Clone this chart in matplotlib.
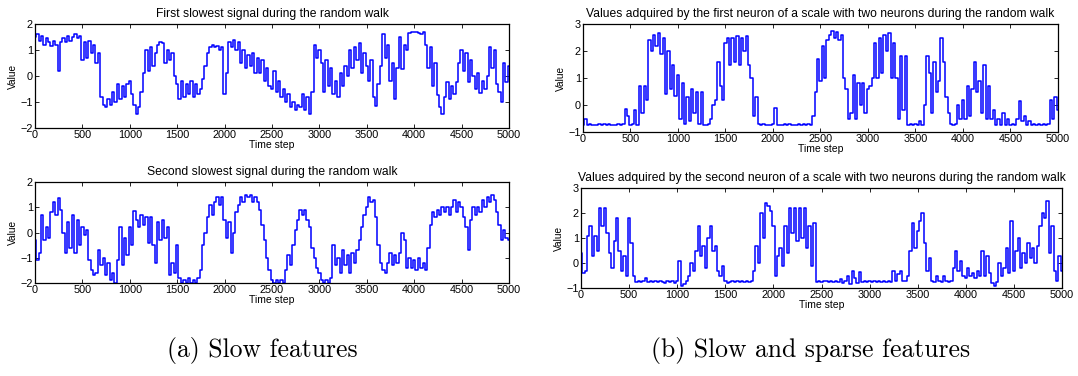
"""
Random walk features: slow signals vs. slow and sparse neuron responses
"""

import matplotlib.pyplot as plt

plt.rcParams["font.family"] = ["Liberation Sans", "DejaVu Sans"]

# Sample positions (every 25 time steps)
time_steps = list(range(0, 5001, 25))

# First slowest signal
slow_first = [
    1.5, 1.6, 1.35, 1.55, 1.2, 1.45, 1.3, 1.15, 1.35, 1.2, 0.2, 1.3, 1.45, 1.3, 1.55, 1.35, 1.5, 1.6, 1.45, 1.55,
    0.6, 1.3, 0.7, 1.35, 0.9, 1.2, 0.5, 0.9, -0.8, -1.1, -1.2, -0.9, -1.1, -0.6, -1.0, -0.3, -0.9, -0.4, -0.8, -0.3,
    -0.2, -0.7, -1.1, -1.45, -1.2, -0.6, 0.1, 1.0, 0.2, 1.1, 0.4, 0.9, 1.2, 1.3, 1.25, 0.5, 1.0, 0.6, 0.9, 0.0,
    -0.3, -0.9, -0.2, -0.8, -0.3, -0.7, -0.2, -0.8, -0.3, -0.7, -0.5, -0.1, 0.4, 0.9, 1.1, 1.2, 1.1, 1.15, 1.0, 1.1,
    -0.7, 0.1, 1.3, 1.1, 1.4, 1.0, 1.3, 0.5, 1.0, 0.3, 0.8, 0.4, 0.9, 0.1, 0.7, 0.1, 0.6, -0.2, 0.3, -0.4,
    -0.5, 0.2, -0.6, -0.2, -0.8, -0.5, -1.0, -0.7, -1.2, -1.0, -1.3, -1.1, -1.2, -0.7, -1.3, -0.8, -1.45, -0.6, 1.2, 0.7,
    1.0, 0.5, -0.6, 0.6, -0.4, 0.3, -0.7, -0.2, -0.8, 0.1, -0.4, 0.4, 0.0, 1.0, 0.3, 1.1, 0.6, 1.25, 0.1, 0.9,
    0.4, -0.2, 0.6, -0.8, -1.15, -0.3, 0.4, 1.6, 0.7, 1.2, -0.2, 0.5, -0.9, 0.3, 1.5, 0.25, 1.2, 1.0, 1.65, 1.7,
    1.68, 1.7, 1.65, 1.6, 1.68, 1.2, 0.3, 1.1, -0.4, 0.5, -0.75, -1.2, -1.45, -0.8, -0.25, -0.9, -0.4, -0.7, -0.25, 0.5,
    1.0, 0.2, 0.9, -0.25, 0.6, 0.0, -0.5, 0.1, -0.65, -0.2, -0.5, 0.0, 1.1, 0.3, 1.0, -0.3, -0.6, -1.0, 0.5, -0.25,
    0.4,
]

# Second slowest signal
slow_second = [
    -0.3, -1.1, -0.8, 0.7, -0.3, 0.2, -0.2, 0.8, 1.2, 0.7, 1.35, 0.9, 0.0, -0.8, 0.4, -0.6, 0.7, -0.8, 0.5, -0.5,
    0.2, -0.1, 0.1, -1.1, -1.5, -1.7, -1.6, -0.7, -1.3, -1.0, -1.7, -1.2, -1.9, -1.6, -2.0, -1.1, 0.2, -1.3, -0.2, -0.9,
    0.2, -0.5, 0.85, 0.5, 0.2, 0.7, 0.3, 0.6, -0.4, 0.6, -0.5, -1.2, 0.4, -0.3, 0.5, -0.2, 0.2, -1.7, -1.2, -1.6,
    -0.5, -1.8, -2.0, -1.9, -2.0, -1.8, -2.0, -1.9, -2.0, -1.8, -1.5, -0.5, 0.0, 0.6, 1.1, 0.7, 1.2, 1.4, 1.1, 1.4,
    0.5, -0.2, 0.4, -0.8, 0.0, 0.8, 1.1, 1.4, 1.2, 1.5, 1.4, 1.5, 1.2, 1.4, 1.2, 0.9, 0.3, -0.3, -1.0, -1.5,
    -1.9, -2.0, -1.9, -2.0, -1.9, -2.0, -1.5, -0.9, -1.3, -0.5, 0.1, 0.5, 0.9, 0.7, 0.9, 0.5, 0.2, -0.6, -1.0, -1.4,
    -1.6, -1.9, -2.0, -1.9, -2.0, -1.8, -0.5, -1.3, -1.0, -1.6, -0.7, -1.3, -0.9, -1.6, -0.8, -1.2, -0.7, -0.3, 0.2, 0.7,
    1.0, 1.4, 1.2, 1.3, 0.6, -0.5, -1.2, -1.5, -1.6, -1.2, -0.8, -1.3, -0.9, -1.2, -0.8, 0.0, -0.3, -1.4, -1.0, -1.4,
    -1.1, -1.5, -1.0, -1.4, -1.2, -1.5, -0.6, 0.3, 0.8, 0.6, 0.9, 0.7, 1.0, 0.8, 1.0, 0.7, 1.0, 1.3, 0.8, 1.2,
    1.0, 0.6, 0.2, -0.7, 0.5, 1.0, 0.7, 1.0, 0.8, 1.3, 1.0, 1.4, 1.2, 1.5, 1.3, 0.8, 0.3, -0.3, 0.1, -0.2,
    -0.3,
]

# First neuron of the two-neuron scale
neuron_first = [
    -0.75, -0.5, -0.75, -0.72, -0.75, -0.73, -0.75, -0.72, -0.75, -0.7, -0.75, -0.72, -0.75, -0.73, -0.75, -0.7, -0.75, -0.72, -0.15, -0.4,
    -0.75, -0.72, -0.2, -0.75, 0.7, -0.3, 0.7, 0.2, 2.4, 2.0, 2.6, 2.2, 2.65, 1.9, 2.5, 0.4, 2.0, 0.6, 1.5, 0.35,
    1.1, -0.5, 0.8, -0.7, 0.3, -0.6, 0.6, -0.3, 0.5, -0.7, 0.5, -0.75, -0.75, -0.72, -0.5, 0.0, 0.2, 1.6, 0.7, 0.2,
    2.3, 2.5, 1.5, 2.5, 1.6, 2.55, 1.5, 2.5, 2.0, 2.55, 1.5, 1.0, -0.4, 0.3, -0.7, -0.75, -0.72, -0.75, -0.73, -0.75,
    -0.72, -0.1, -0.75, -0.73, -0.75, -0.7, -0.75, -0.72, -0.75, -0.73, -0.75, -0.72, -0.75, -0.7, -0.75, -0.72, -0.75, -0.4, 0.5, 1.7,
    0.9, 2.2, 1.0, 2.4, 2.6, 2.75, 2.5, 2.7, 2.4, 2.6, 1.0, 0.6, -0.5, -0.3, 1.1, -0.5, 0.8, 0.0, 0.8, -0.3,
    0.6, 0.7, 1.0, 2.3, 1.0, 2.5, 1.2, 2.6, 2.0, 2.65, 1.0, 2.3, 1.0, -0.5, 1.8, -0.2, 1.8, -0.75, -0.72, -0.75,
    -0.7, -0.75, -0.6, -0.75, 0.0, 1.8, 1.2, -0.3, 1.6, 0.5, 0.9, 2.5, 1.6, 0.3, -0.3, -0.7, -0.75, -0.7, 0.0, -0.5,
    0.2, -0.5, 0.7, -0.4, 0.6, 1.6, 0.5, 0.9, -0.3, 1.5, -0.5, 0.7, -0.5, -0.2, -0.75, -0.5, -0.75, -0.3, -0.75, -0.5,
    -0.75, -0.72, -0.75, -0.5, 0.15, -0.6, -0.4, -0.75, -0.6, -0.75, -0.72, -0.75, -0.7, -0.75, -0.72, -0.75, -0.7, 0.2, -0.5, 0.3,
    -0.2,
]

# Second neuron of the two-neuron scale
neuron_second = [
    0.4, -0.4, -0.3, 1.1, 1.5, 0.3, 1.1, 0.5, 2.2, 1.5, 2.2, 1.2, 0.4, -0.2, 0.9, 1.8, 0.5, -0.3, 0.3, -0.5,
    1.8, 0.8, -0.5, -0.75, -0.72, -0.75, -0.7, -0.6, -0.75, -0.72, -0.75, -0.7, -0.75, -0.72, -0.75, -0.78, -0.72, -0.75, -0.7, -0.8,
    -0.72, 0.1, -0.9, -0.85, -0.7, -0.5, 0.0, -0.3, 0.5, 1.5, 0.3, 0.7, -0.2, 1.0, 1.5, 0.5, 0.7, -0.3, -0.5, -0.1,
    -0.7, -0.8, -0.75, -0.72, -0.75, -0.7, -0.75, -0.72, -0.75, -0.73, -0.75, -0.72, -0.3, 0.7, 0.0, 2.0, 1.0, 2.4, 2.3, 2.1,
    1.5, -0.5, 0.3, 0.6, -0.1, 1.5, 0.4, 2.2, 1.2, 2.2, 0.9, 2.2, 1.0, 2.2, 0.6, 1.5, -0.1, 1.6, -0.75, -0.72,
    -0.75, -0.72, -0.7, -0.75, -0.72, -0.75, -0.73, -0.75, -0.65, -0.8, -0.72, -0.5, -0.85, -0.3, -0.6, -0.8, -0.35, -0.75, -0.72, -0.75,
    -0.72, -0.75, -0.7, -0.75, -0.72, -0.75, -0.73, -0.75, -0.72, -0.75, -0.3, -0.7, -0.45, -0.3, -0.7, -0.72, -0.5, 0.5, 1.6, 0.6,
    1.3, 1.7, 2.0, 0.8, -0.3, 0.2, -0.7, -0.75, -0.5, -0.72, -0.75, -0.5, -0.72, -0.75, -0.7, -0.2, 0.5, -0.3, 0.1, -0.5,
    -0.6, -0.2, -0.5, -0.4, -0.6, -0.3, -0.5, 0.5, -0.5, 0.3, -0.4, -0.8, -0.9, -0.75, 0.0, -0.5, -0.2, 0.6, -0.4, 1.67,
    -0.3, 0.5, 1.0, -0.2, 0.4, 0.0, 0.8, 0.2, 0.6, 0.0, 0.7, 1.5, 2.0, 1.8, 2.5, 0.4, 1.5, -0.3, -0.7, 0.3,
    -0.3,
]

titles = [
    "First slowest signal during the random walk",
    "Second slowest signal during the random walk",
    "Values adquired by the first neuron of a scale with two neurons during the random walk",
    "Values adquired by the second neuron of a scale with two neurons during the random walk",
]


def draw_panel(ax, values, title, ylim, yticks):
    """
    시간축 신호 한 개를 MATLAB 스타일 축에 그립니다.
    """
    # 이산 신호이므로 계단 형태로 그림
    ax.plot(time_steps, values, color="blue", linewidth=1.1, drawstyle="steps-mid")
    ax.set_xlim(0, 5000)
    ax.set_ylim(*ylim)
    ax.set_xticks(range(0, 5001, 500))
    ax.set_yticks(yticks)
    ax.set_title(title, fontsize=8.7, pad=5)
    ax.set_xlabel("Time step", fontsize=7.5, labelpad=0)
    ax.set_ylabel("Value", fontsize=7.3, labelpad=2)
    ax.tick_params(direction="in", top=True, right=True, labelsize=7.8,
                   length=3, width=0.6, pad=1.5)
    for spine in ax.spines.values():
        spine.set_linewidth(0.9)


fig = plt.figure(figsize=(10.78, 3.76), dpi=100)

ax_tl = fig.add_axes([0.0325, 0.6596, 0.4397, 0.2766])
ax_bl = fig.add_axes([0.0325, 0.2473, 0.4397, 0.2686])
ax_tr = fig.add_axes([0.5408, 0.6489, 0.4406, 0.2872])
ax_br = fig.add_axes([0.5390, 0.2340, 0.4462, 0.2660])

draw_panel(ax_tl, slow_first, titles[0], (-2, 2), [-2, -1, 0, 1, 2])
draw_panel(ax_bl, slow_second, titles[1], (-2, 2), [-2, -1, 0, 1, 2])
draw_panel(ax_tr, neuron_first, titles[2], (-1, 3), [-1, 0, 1, 2, 3])
draw_panel(ax_br, neuron_second, titles[3], (-1, 3), [-1, 0, 1, 2, 3])

# 하위 그림 캡션
fig.text(262 / 1078, 1 - 350 / 376, "(a) Slow features",
         family="cmr10", fontsize=18.5, ha="center", va="center")
fig.text(811 / 1078, 1 - 350 / 376, "(b) Slow and sparse features",
         family="cmr10", fontsize=18.5, ha="center", va="center")

fig.savefig("out.png", dpi=100)
